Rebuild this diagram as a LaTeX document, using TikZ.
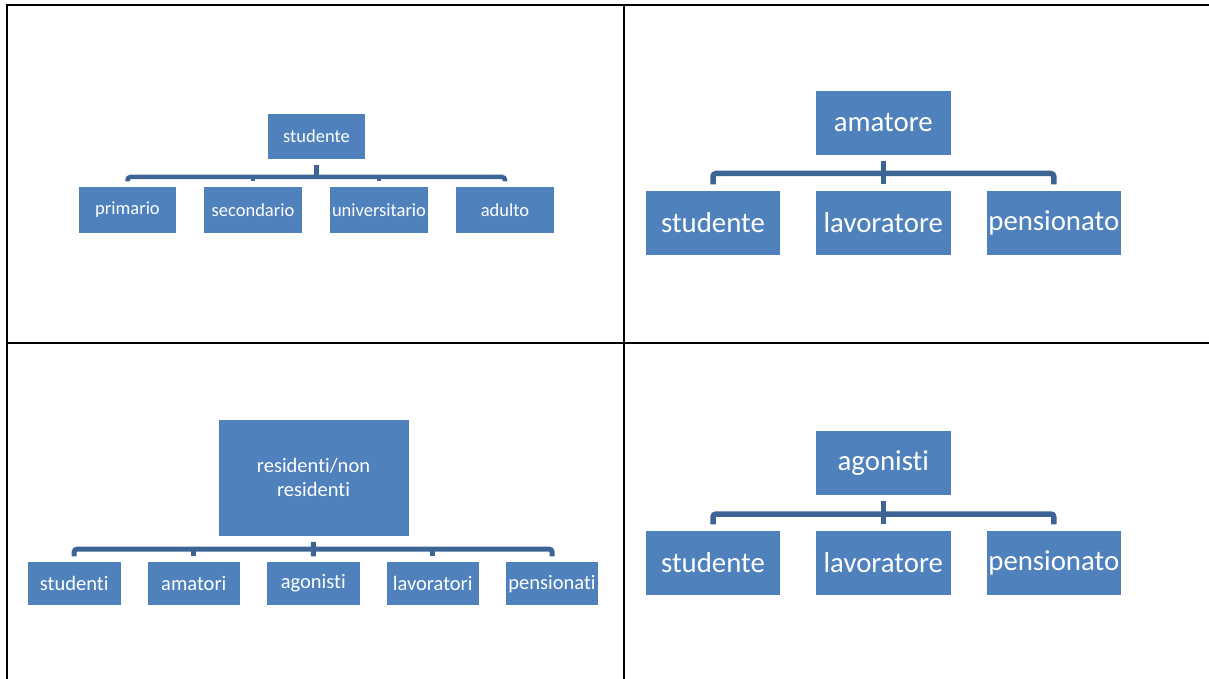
\documentclass[tikz,border=0pt]{standalone}
\usepackage{fontspec}
\setmainfont{Carlito}[Ligatures={NoCommon,NoRare,NoContextual}]
\definecolor{boxblue}{HTML}{4F81BD}
\definecolor{linkblue}{HTML}{3C6494}
\begin{document}
\begin{tikzpicture}[x=1pt,y=-1pt,
  grid/.style={draw=black, line width=2pt},
  box/.style={fill=boxblue, draw=white, line width=0.6pt, text=white, inner sep=0pt, align=center},
  tlbox/.style={box, minimum width=98.5pt, minimum height=46.5pt, font=\fontsize{18.5}{22}\selectfont},
  bigbox/.style={box, minimum width=135.5pt, minimum height=64.5pt, font=\fontsize{28.8}{34}\selectfont},
  blbox/.style={box, minimum width=93.5pt, minimum height=44pt, font=\fontsize{20.5}{24}\selectfont},
  blparent/.style={box, minimum width=191pt, minimum height=116.7pt, font=\fontsize{20.5}{24}\selectfont},
  conn/.style={draw=linkblue, rounded corners=3pt},
]
\useasboundingbox (0,0) rectangle (1209,679);
% table rules
\draw[grid] (6,5) -- (1209,5);
\draw[grid] (7,4) -- (7,679);
\draw[grid] (7,343) -- (1209,343);
\draw[grid] (623.8,4) -- (623.8,679);

% ---------- top left ----------
\node[tlbox] (tlp) at (316.5,136.5) {studente};
\node[tlbox] (tl1) at (127.5,210) {primario};
\node[tlbox] (tl2) at (253,210) {secondario};
\node[tlbox] (tl3) at (379,210) {universitario};
\node[tlbox] (tl4) at (505,210) {adulto};
\coordinate (tlbar) at (316.5,177);
\begin{scope}[line width=4.5pt]
\draw[conn] ([yshift=-5pt]tlp.south) -- (tlp.south |- tlbar);
\draw[conn] ([yshift=5pt]tl1.north) |- (tlbar) -| ([yshift=5pt]tl4.north);
\draw[conn] ([yshift=5pt]tl2.north) -- (tl2.north |- tlbar);
\draw[conn] ([yshift=5pt]tl3.north) -- (tl3.north |- tlbar);
\end{scope}

% ---------- top right ----------
\node[bigbox] (trp) at (883.3,123) {amatore};
\node[bigbox] (tr1) at (713,223) {studente};
\node[bigbox] (tr2) at (883.3,223) {lavoratore};
\node[bigbox] (tr3) at (1053.8,223) {pensionato};
\coordinate (trbar) at (883.3,173.5);
\begin{scope}[line width=5.5pt]
\draw[conn] ([yshift=-5.5pt]trp.south) -- ([yshift=6pt]tr2.north);
\draw[conn] ([yshift=6pt]tr1.north) |- (trbar) -| ([yshift=6pt]tr3.north);
\end{scope}

% ---------- bottom left ----------
\node[blparent] (blp) at (313.5,477.7) {residenti/non\\residenti};
\node[blbox] (bl1) at (74.2,583.7) {studenti};
\node[blbox] (bl2) at (193.8,583.7) {amatori};
\node[blbox] (bl3) at (313.3,583.7) {agonisti};
\node[blbox] (bl4) at (432.7,583.7) {lavoratori};
\node[blbox] (bl5) at (552,583.7) {pensionati};
\coordinate (blbar) at (313.5,549);
\begin{scope}[line width=5pt]
\draw[conn] ([yshift=-5.5pt]blp.south) -- ([yshift=5pt]bl3.north);
\draw[conn] ([yshift=5pt]bl1.north) |- (blbar) -| ([yshift=5pt]bl5.north);
\draw[conn] ([yshift=5pt]bl2.north) -- (bl2.north |- blbar);
\draw[conn] ([yshift=5pt]bl4.north) -- (bl4.north |- blbar);
\end{scope}

% ---------- bottom right ----------
\node[bigbox] (brp) at (883.3,462.9) {agonisti};
\node[bigbox] (br1) at (713,562.9) {studente};
\node[bigbox] (br2) at (883.3,562.9) {lavoratore};
\node[bigbox] (br3) at (1053.8,562.9) {pensionato};
\coordinate (brbar) at (883.3,514);
\begin{scope}[line width=5.5pt]
\draw[conn] ([yshift=-5.5pt]brp.south) -- ([yshift=6pt]br2.north);
\draw[conn] ([yshift=6pt]br1.north) |- (brbar) -| ([yshift=6pt]br3.north);
\end{scope}
\end{tikzpicture}
\end{document}
